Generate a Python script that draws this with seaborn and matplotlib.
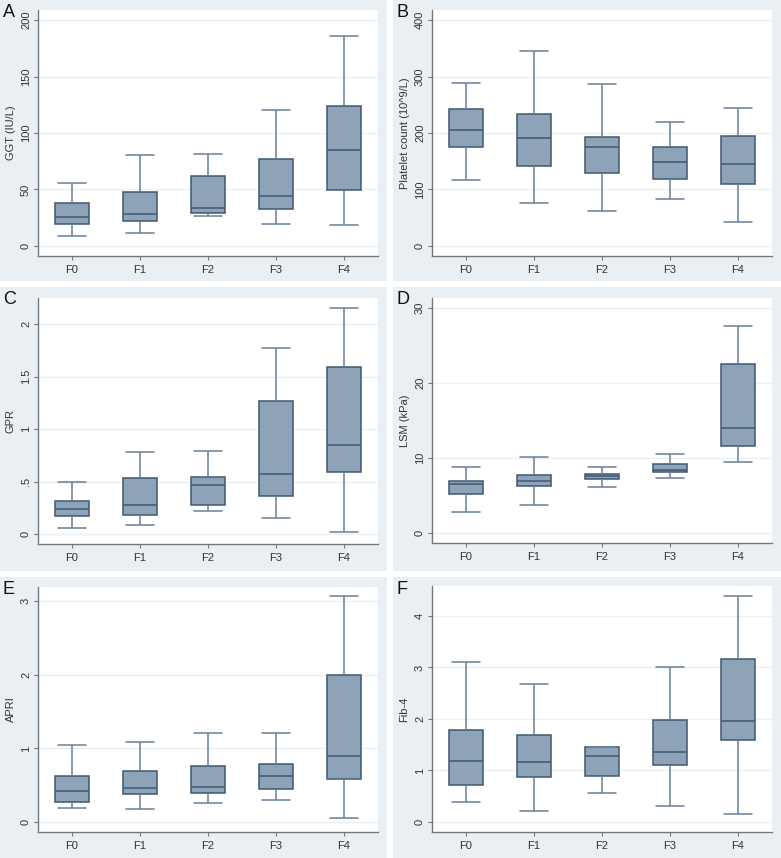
import pandas as pd
import matplotlib.pyplot as plt
import matplotlib.colors as mcolors
import seaborn as sns
from matplotlib.patches import Rectangle

# five-number summaries: [min, Q1, median, Q3, max]
stages = ["F0", "F1", "F2", "F3", "F4"]

ggt = [[8.6, 19.8, 26, 37.8, 56],
       [11.8, 22, 28, 47.5, 80.8],
       [26.8, 29, 33.3, 62, 81.7],
       [19.8, 32.7, 44, 76.7, 120],
       [18.6, 49.3, 84.7, 124, 186]]

platelet = [[117, 176, 205, 243, 288],
            [76, 141, 191, 233, 346],
            [62.5, 129, 176, 193, 287],
            [84, 118.6, 148, 176, 219.5],
            [42.5, 109, 145, 195, 245]]

gpr = [[0.054, 0.17, 0.235, 0.31, 0.50],
       [0.086, 0.18, 0.273, 0.53, 0.78],
       [0.216, 0.277, 0.464, 0.544, 0.795],
       [0.153, 0.366, 0.576, 1.27, 1.77],
       [0.016, 0.588, 0.846, 1.59, 2.15]]

lsm = [[2.7, 5.2, 6.5, 6.9, 8.7],
       [3.7, 6.2, 6.87, 7.7, 10.1],
       [6.1, 7.1, 7.5, 7.8, 8.8],
       [7.3, 8.15, 8.3, 9.1, 10.5],
       [9.4, 11.5, 13.9, 22.55, 27.6]]

apri = [[0.185, 0.27, 0.42, 0.62, 1.04],
        [0.176, 0.38, 0.46, 0.69, 1.09],
        [0.26, 0.39, 0.48, 0.755, 1.21],
        [0.30, 0.45, 0.62, 0.79, 1.21],
        [0.054, 0.59, 0.895, 2.0, 3.07]]

fib4 = [[0.39, 0.72, 1.18, 1.79, 3.1],
        [0.21, 0.87, 1.16, 1.69, 2.67],
        [0.57, 0.89, 1.28, 1.45, 1.45],
        [0.32, 1.11, 1.35, 1.98, 3.0],
        [0.155, 1.59, 1.96, 3.16, 4.39]]

panels = [
    ("A", "GGT (IU/L)", ggt, [0, 50, 100, 150, 200], ["0", "50", "100", "150", "200"], (-8.85, 208.85)),
    ("B", "Platelet count (10^9/L)", platelet, [0, 100, 200, 300, 400], ["0", "100", "200", "300", "400"], (-17.7, 417.7)),
    ("C", "GPR", gpr, [0, 0.5, 1, 1.5, 2], ["0", ".5", "1", "1.5", "2"], (-0.095, 2.248)),
    ("D", "LSM (kPa)", lsm, [0, 10, 20, 30], ["0", "10", "20", "30"], (-1.37, 31.28)),
    ("E", "APRI", apri, [0, 1, 2, 3], ["0", "1", "2", "3"], (-0.136, 3.194)),
    ("F", "Fib-4", fib4, [0, 1, 2, 3, 4], ["0", "1", "2", "3", "4"], (-0.194, 4.58)),
]

W, H = 781, 858
# panel background boxes and white plot regions, in pixels (left, top, right, bottom)
bg_boxes = [(0, 0, 387, 281), (393, 0, 781, 281),
            (0, 287, 387, 571), (393, 287, 781, 571),
            (0, 577, 387, 858), (393, 577, 781, 858)]
plot_boxes = [(38, 10, 378, 256), (432, 10, 772, 256),
              (38, 298, 378, 544), (432, 298, 772, 543),
              (38, 587, 378, 832), (432, 586, 772, 832)]

BG = "#e9eff3"
FILL = "#8ea3b8"
EDGE = "#3e5872"
WHISK = "#687f96"
CAP_HALF = 0.21

sns.set_style("white")
plt.rcParams["font.family"] = ["Liberation Sans", "DejaVu Sans"]

fig = plt.figure(figsize=(W / 100, H / 100), dpi=100)
fig.patch.set_facecolor("white")


def to_fig(l, t, r, b):
    return [l / W, 1 - b / H, (r - l) / W, (b - t) / H]


for (letter, ylabel, summ, yt, ytl, ylim), bgb, pb in zip(panels, bg_boxes, plot_boxes):
    x0, y0, w, h = to_fig(*bgb)
    fig.add_artist(Rectangle((x0, y0), w, h, transform=fig.transFigure,
                             facecolor=BG, edgecolor="none", zorder=0))
    fig.text(x0 + 3 / W, y0 + h - 4 / H, letter, fontsize=13, va="top", ha="left", color="#111")

    rows = [(s, v) for s, vals in zip(stages, summ) for v in vals]
    df = pd.DataFrame(rows, columns=["stage", "value"])

    ax = fig.add_axes(to_fig(*pb))
    ax.set_facecolor("white")
    ax.set_zorder(2)
    for y in yt:
        ax.axhline(y, color="#eaf0f4", lw=1, zorder=0)
    sns.boxplot(data=df, x="stage", y="value", order=stages, whis=(0, 100),
                width=0.5, color=FILL, linecolor=EDGE, linewidth=1.1,
                showfliers=False, saturation=1, ax=ax,
                whiskerprops=dict(color=WHISK, linewidth=1.1),
                capprops=dict(color=WHISK, linewidth=1.1),
                medianprops=dict(color=EDGE, linewidth=1.1))

    # widen the whisker caps (Stata draws them almost as wide as the box)
    for ln in ax.lines:
        xs, ys = ln.get_xdata(), ln.get_ydata()
        if len(xs) == 2 and ys[0] == ys[1] and mcolors.same_color(ln.get_color(), WHISK):
            c = (xs[0] + xs[1]) / 2
            ln.set_xdata([c - CAP_HALF, c + CAP_HALF])

    ax.set_xlim(-0.5, 4.5)
    ax.set_ylim(*ylim)
    ax.set_yticks(yt)
    ax.set_yticklabels(ytl, rotation=90, va="center", fontsize=8, color="#333")
    ax.tick_params(axis="x", labelsize=8, colors="#333", length=3, color="#777")
    ax.tick_params(axis="y", length=3, color="#777", pad=2)
    ax.tick_params(axis="both", direction="out", left=True, bottom=True)
    ax.set_xlabel("")
    ax.set_ylabel(ylabel, fontsize=8, color="#333", labelpad=4)
    for side in ["top", "right"]:
        ax.spines[side].set_visible(False)
    for side in ["left", "bottom"]:
        ax.spines[side].set_color("#777")
        ax.spines[side].set_linewidth(1)

plt.savefig("out.png", dpi=100, facecolor="white")
